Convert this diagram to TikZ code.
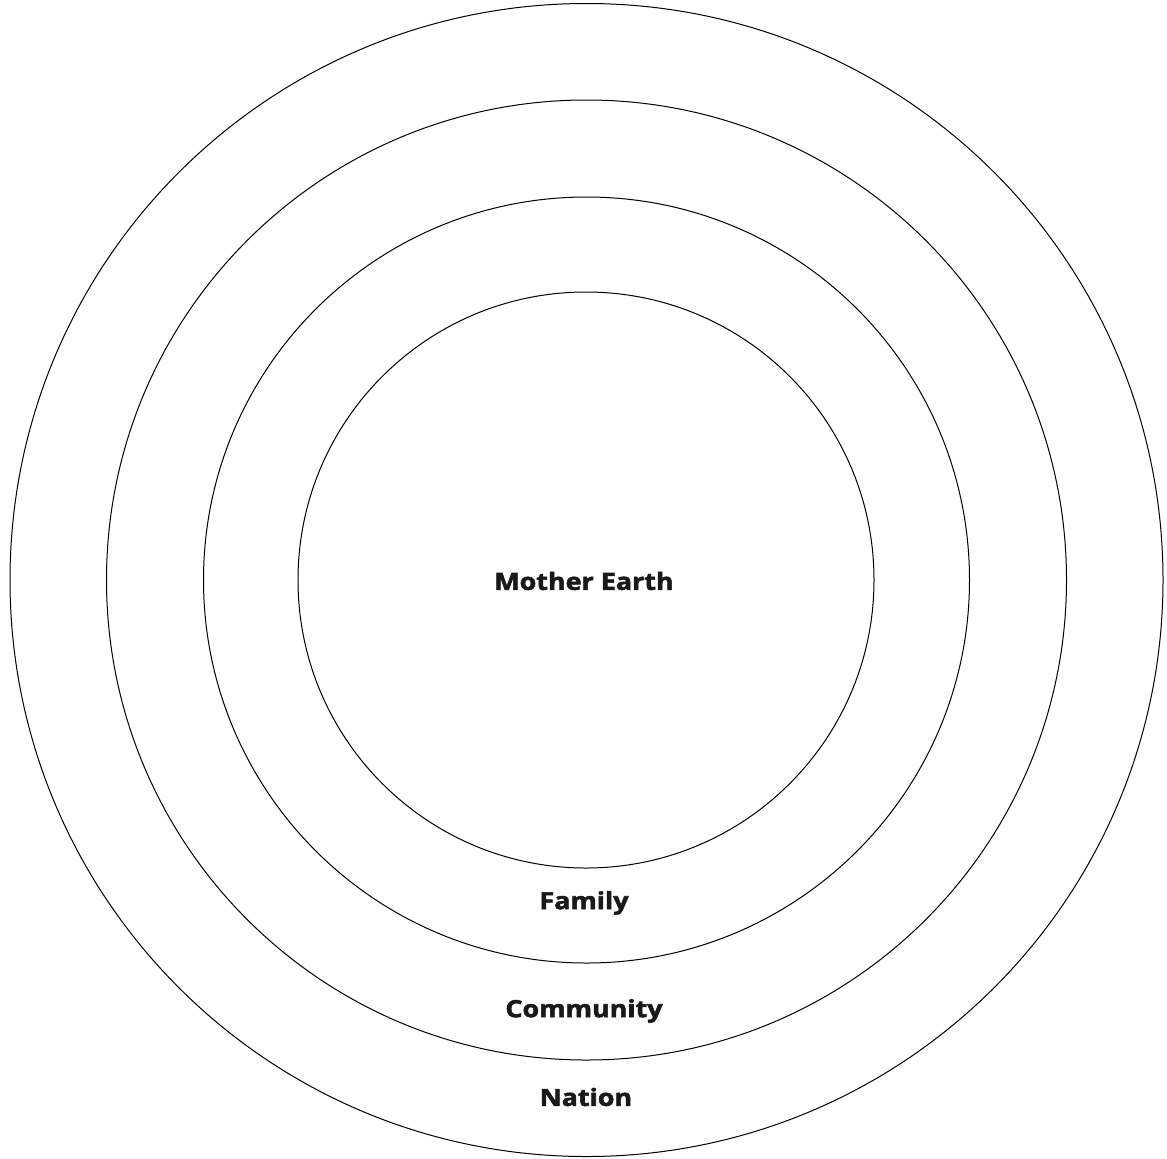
\documentclass[tikz,border=0pt]{standalone}
\usepackage{fontspec}
\setmainfont{Open Sans}[BoldFeatures={FakeBold=2.2, FakeStretch=1.14}]
\usepackage{tikz}
\usetikzlibrary{positioning}

\begin{document}
\begin{tikzpicture}[
  x=0.5pt, y=-0.5pt,
  ring/.style={draw=black, line width=0.5pt, circle, inner sep=0pt, outer sep=0pt},
  lbl/.style={font=\fontsize{11.8}{14}\selectfont\bfseries, text=black!90, inner sep=0pt}
]
\useasboundingbox (0,0) rectangle (1167,1158);
\node[ring, minimum size=576.5pt] (nation) at (586.5,580) {};
\node[ring, minimum size=480pt] (community) at (586.5,580) {};
\node[ring, minimum size=383pt] (family) at (586.5,580) {};
\node[ring, minimum size=288pt] (earth) at (586,580) {};

\node[lbl] (earthlbl) at (584,581) {Mother Earth};
\node[lbl] (familylbl) at (584,903) {Family};
\node[lbl] (communitylbl) at (584,1011) {Community};
\node[lbl] (nationlbl) at (586,1097) {Nation};
\end{tikzpicture}
\end{document}
